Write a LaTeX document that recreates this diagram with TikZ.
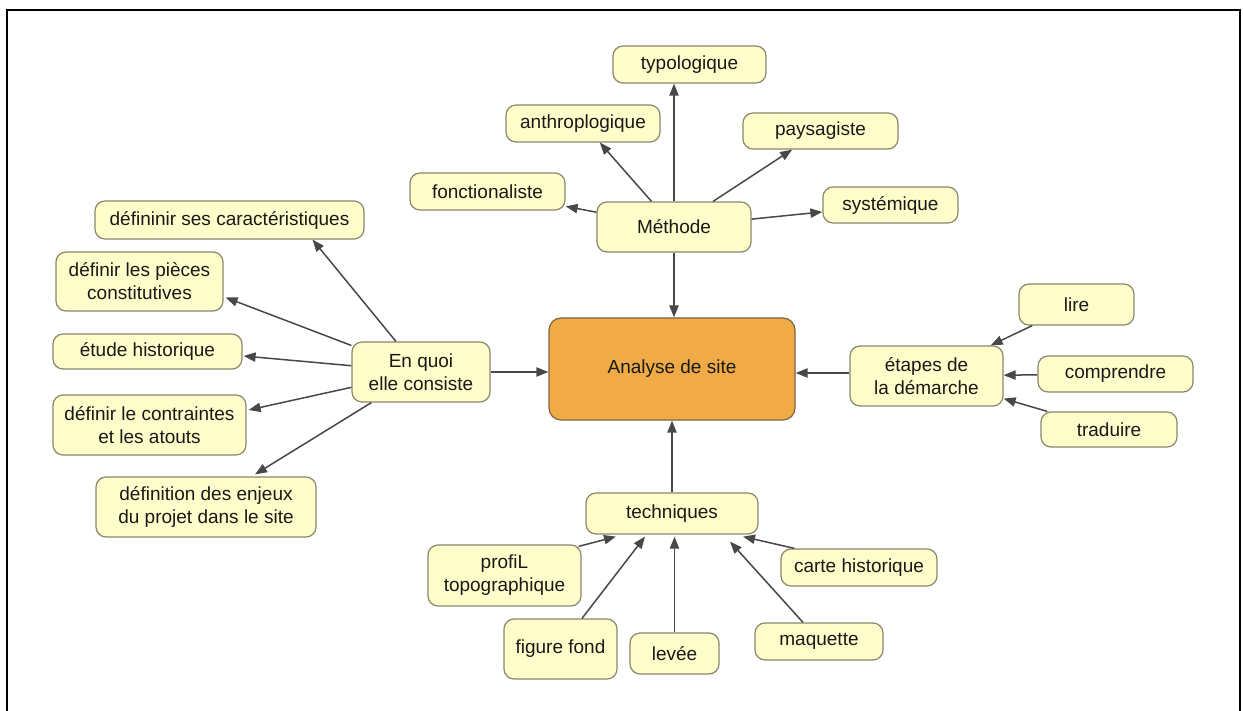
\documentclass[tikz,border=0pt]{standalone}
\usepackage{fontspec}
\setmainfont{Liberation Sans}
\usetikzlibrary{arrows.meta,calc}
\definecolor{boxfill}{RGB}{255,253,201}
\definecolor{boxline}{RGB}{138,136,108}
\definecolor{mainfill}{RGB}{240,170,70}
\definecolor{mainline}{RGB}{125,100,65}
\definecolor{arrcol}{RGB}{72,72,72}
\definecolor{txtcol}{RGB}{25,25,25}
\tikzset{
  box/.style={draw=boxline, fill=boxfill, rounded corners=5pt, line width=0.6pt,
    align=center, inner sep=0pt, text=txtcol, font=\fontsize{9.5}{11.5}\selectfont},
  mainbox/.style={box, draw=mainline, fill=mainfill, rounded corners=6pt},
  arr/.style={draw=arrcol, line width=0.75pt, -{Triangle[length=6pt,width=4.6pt]}},
}
\begin{document}
\begin{tikzpicture}[x=0.5pt,y=-0.5pt]
\useasboundingbox (0,0) rectangle (1243,711);
\fill[white] (0,0) rectangle (1243,711);
\draw[black, line width=0.75pt] (7,711) -- (7,10) -- (1240,10) -- (1240,711);

% nodes
\node[mainbox, minimum width=123pt, minimum height=51pt] (analyse) at (672,369) {Analyse de site};
\node[box, minimum width=77pt, minimum height=25pt] (methode) at (674,227) {Méthode};
\node[box, minimum width=76.5pt, minimum height=18.5pt] (typo) at (689.5,64.5) {typologique};
\node[box, minimum width=77pt, minimum height=18.5pt] (anthrop) at (583,123.5) {anthroplogique};
\node[box, minimum width=77.5pt, minimum height=18pt] (pays) at (820.5,131) {paysagiste};
\node[box, minimum width=77.5pt, minimum height=18.5pt] (fonct) at (487.5,191.5) {fonctionaliste};
\node[box, minimum width=67.5pt, minimum height=18pt] (syst) at (890.5,205) {systémique};

\node[box, minimum width=69pt, minimum height=30pt] (enquoi) at (421,372) {En quoi\\elle consiste};
\node[box, minimum width=134.5pt, minimum height=19pt] (defcar) at (229.5,220) {défininir ses caractéristiques};
\node[box, minimum width=83.5pt, minimum height=29.5pt] (pieces) at (139.5,281.5) {définir les pièces\\constitutives};
\node[box, minimum width=94.5pt, minimum height=17.5pt] (etude) at (147.5,351.5) {étude historique};
\node[box, minimum width=96.5pt, minimum height=30pt] (contr) at (149.5,425) {définir le contraintes\\et les atouts};
\node[box, minimum width=110pt, minimum height=30pt] (enjeux) at (206,507) {définition des enjeux\\du projet dans le site};

\node[box, minimum width=76.5pt, minimum height=30pt] (etapes) at (926.5,376) {étapes de\\la démarche};
\node[box, minimum width=57.5pt, minimum height=20.5pt] (lire) at (1076.5,304.5) {lire};
\node[box, minimum width=77.5pt, minimum height=18pt] (compr) at (1115.5,374) {comprendre};
\node[box, minimum width=68pt, minimum height=17.5pt] (trad) at (1109,429.5) {traduire};

\node[box, minimum width=86pt, minimum height=20.5pt] (tech) at (672,513.5) {techniques};
\node[box, minimum width=76.5pt, minimum height=30.5pt] (profil) at (504.5,575.5) {profiL\\topographique};
\node[box, minimum width=78pt, minimum height=18.5pt] (carte) at (859,567.5) {carte historique};
\node[box, minimum width=56.5pt, minimum height=30pt] (figure) at (560.5,649) {figure fond};
\node[box, minimum width=44.5pt, minimum height=20.5pt] (levee) at (674.5,653.5) {levée};
\node[box, minimum width=64pt, minimum height=18.5pt] (maq) at (819,641.5) {maquette};

% connectors to centre
\draw[arr] (methode.south) -- (methode.south |- analyse.north);
\draw[arr] (tech.north) -- (tech.north |- analyse.south);
\draw[arr] (enquoi.east) -- (enquoi.east -| analyse.west);
\coordinate (ew) at ($(etapes.west)+(0,-3)$);
\draw[arr] (ew) -- (ew -| analyse.east);

% Methode
\draw[arr] (methode.north) -- (methode.north |- typo.south);
\draw[arr] (methode) -- (anthrop);
\draw[arr] (methode) -- (pays);
\draw[arr] (methode) -- (fonct);
\draw[arr] (methode) -- (syst);

% En quoi
\draw[arr] (enquoi) -- ($(defcar.south)+(83,0)$);
\draw[arr] (enquoi) -- ($(pieces.east)+(2,16)$);
\draw[arr] (enquoi) -- ($(etude.east)+(1,4.5)$);
\draw[arr] (enquoi) -- ($(contr.east)+(2,-15)$);
\draw[arr] (enquoi) -- ($(enjeux.north)+(49,-2)$);

% etapes
\draw[arr] (lire) -- (etapes);
\draw[arr] (compr) -- (etapes);
\draw[arr] (trad) -- (etapes);

% techniques
\draw[arr] ($(profil.north east)+(-3,2)$) -- ($(tech.south)+(-56,2)$);
\draw[arr] ($(figure.north)+(21.5,0)$) -- ($(tech.south)+(-27,2)$);
\draw[arr] (levee.north) -- ($(levee.north |- tech.south)+(0,2)$);
\draw[arr] ($(maq.north)+(-16,0)$) -- ($(tech.south)+(58,7)$);
\draw[arr] ($(carte.north west)+(14,0)$) -- ($(tech.south)+(71,2)$);
\end{tikzpicture}
\end{document}
